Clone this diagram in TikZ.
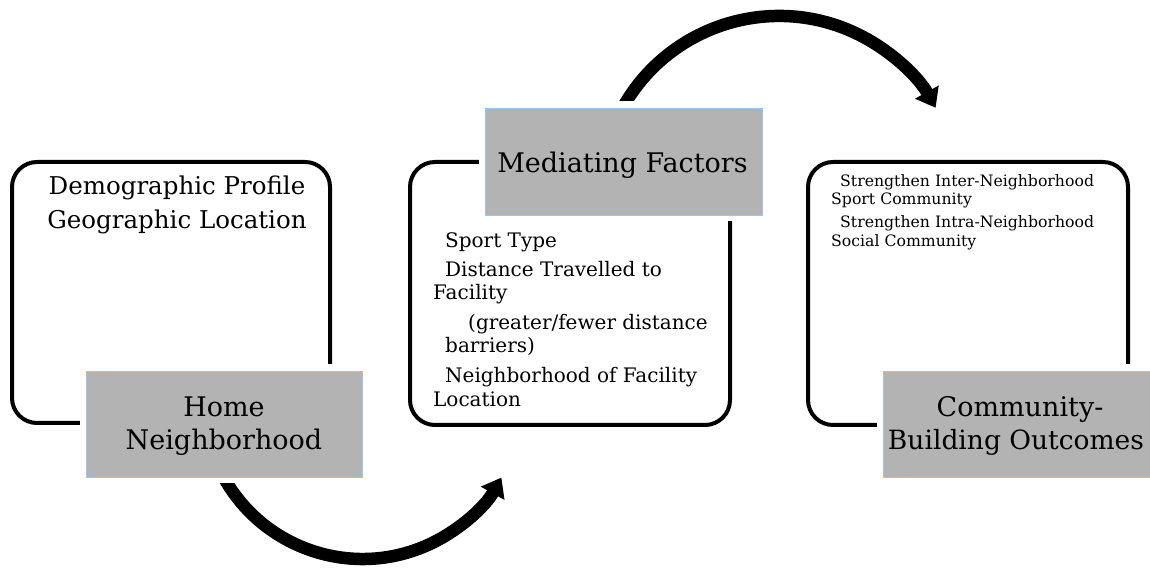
\documentclass[tikz,border=0pt]{standalone}
\usepackage{fontspec}
\setmainfont{DejaVu Serif}
\usetikzlibrary{arrows.meta}
\definecolor{boxgrey}{RGB}{179,179,179}
\definecolor{boxblue}{RGB}{160,196,232}
\begin{document}
\begin{tikzpicture}[x=1pt,y=1pt,
  roundbox/.style={draw=black, line width=4pt, rounded corners=25pt, inner sep=0pt},
  labelbox/.style={fill=boxgrey, draw=boxblue, line width=0.8pt,
    preaction={draw=white, line width=13pt}, inner sep=0pt},
  bigarrow/.style={line width=12.5pt, -{Triangle[length=18pt,width=26pt]}},
  bodyA/.style={inner sep=0pt, font=\fontsize{24.5}{29}\selectfont},
  title/.style={anchor=base, inner sep=0pt, font=\fontsize{27}{33}\selectfont},
  bodyB/.style={anchor=base west, inner sep=0pt, font=\fontsize{20}{24}\selectfont},
  bodyC/.style={anchor=base west, inner sep=0pt, font=\fontsize{15.7}{19}\selectfont}]
\useasboundingbox (0,0) rectangle (1150,569);
% rounded boxes
\node[roundbox, minimum width=318pt, minimum height=261pt] (b1) at (171,276.5) {};
\node[roundbox, minimum width=320pt, minimum height=263pt] (b2) at (570,275.5) {};
\node[roundbox, minimum width=320pt, minimum height=263pt] (b3) at (968,275.5) {};
% arrows
\coordinate (a1s) at (219.7,99.3);
\coordinate (a2s) at (620.8,457.9);
\draw[bigarrow] (a1s) arc[start angle=206, end angle=330.8, radius=159];
\draw[bigarrow] (a2s) arc[start angle=152, end angle=29.2, radius=179.3];
% grey label boxes
\node[labelbox, minimum width=276pt, minimum height=106pt] (g1) at (224,145) {};
\node[labelbox, minimum width=277pt, minimum height=107pt] (g2) at (623.5,407.5) {};
\node[labelbox, minimum width=278pt, minimum height=106pt] (g3) at (1022,145) {};
% texts box 1
\node[bodyA, anchor=base] (t1a) at (177,374) {Demographic Profile};
\node[bodyA, anchor=base] (t1b) at (177,340) {Geographic Location};
\node[title] (h1a) at (224,152) {Home};
\node[title] (h1b) at (224,119) {Neighborhood};
% texts box 2
\node[title] (h2a) at (622.5,396) {Mediating Factors};
\node[bodyB] (t2a) at (445,321) {Sport Type};
\node[bodyB] (t2b) at (445,292) {Distance Travelled to};
\node[bodyB] (t2c) at (433,269) {Facility};
\node[bodyB] (t2d) at (468,239) {(greater/fewer distance};
\node[bodyB] (t2e) at (445,216) {barriers)};
\node[bodyB] (t2f) at (445,186) {Neighborhood of Facility};
\node[bodyB] (t2g) at (433,162) {Location};
% texts box 3
\node[bodyC] (t3a) at (840,382) {Strengthen Inter-Neighborhood};
\node[bodyC] (t3b) at (831,364) {Sport Community};
\node[bodyC] (t3c) at (840,341) {Strengthen Intra-Neighborhood};
\node[bodyC] (t3d) at (831,322) {Social Community};
\node[title] (h3a) at (1020,152) {Community-};
\node[title, font=\fontsize{26.5}{33}\selectfont] (h3b) at (1016,119) {Building Outcomes};
\end{tikzpicture}
\end{document}
